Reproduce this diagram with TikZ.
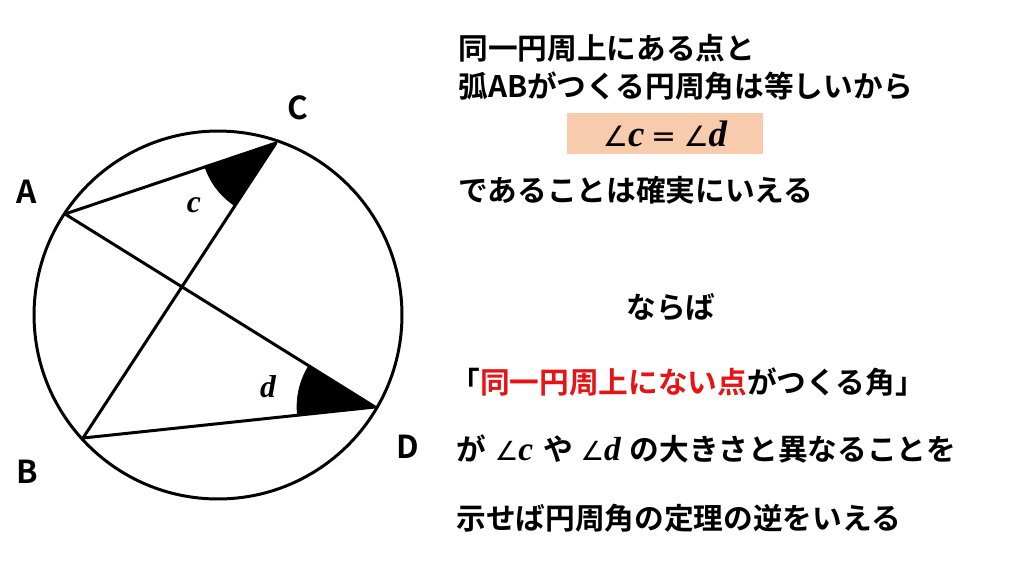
\documentclass[tikz,border=0pt]{standalone}
\usepackage{fontspec}
\usetikzlibrary{angles,calc}
\newfontfamily\jp{Noto Sans CJK JP}[BoldFont={Noto Sans CJK JP Bold}]
\newfontfamily\lsf{Liberation Serif}
\newfontfamily\djv{DejaVu Sans}
\definecolor{peach}{HTML}{F8CBAD}
\definecolor{jred}{RGB}{230,20,20}
\newcommand{\vv}[2][19]{{\lsf\bfseries\itshape\fontsize{#1}{#1}\selectfont #2}}
\newcommand{\ang}[1][15]{{\djv\mdseries\fontsize{#1}{#1}\selectfont ∠}}
\begin{document}
\begin{tikzpicture}[x=0.02cm,y=-0.02cm,
 line/.style={line width=1.7pt, line join=round},
 ptlabel/.style={font=\jp\bfseries\fontsize{18}{20}\selectfont},
 jtext/.style={font=\jp\bfseries\fontsize{16.9}{18}\selectfont, anchor=west, inner sep=0pt},
 wedge/.style={fill=black, draw=black}
]
\useasboundingbox (0,0) rectangle (1024,576);
\coordinate (O) at (218,315);
\coordinate (A) at (65,214);
\coordinate (C) at (276,143);
\coordinate (D) at (375,407);
\coordinate (B) at (83,438);
\pic[wedge, angle radius=1.5cm] {angle=A--C--B};
\pic[wedge, angle radius=1.56cm] {angle=A--D--B};
\draw[line] (O) circle [radius=3.68cm];
\draw[line] (A) -- (C) -- (B) -- (D) -- cycle;
\node[ptlabel] (lA) at (27,192) {A};
\node[ptlabel] (lC) at (298,108) {C};
\node[ptlabel] (lD) at (408,447) {D};
\node[ptlabel] (lB) at (27,472) {B};
\node (lc) at (194,205) {\vv[18]{c}};
\node (ld) at (268,387) {\vv[18]{d}};
\node[jtext] (t1) at (458,48) {同一円周上にある点と};
\node[jtext] (t2) at (458,86) {弧ABがつくる円周角は等しいから};
\node[fill=peach, minimum width=3.92cm, minimum height=0.82cm] (box) at (665,133.5) {\ang[16]\vv[21]{c}\hspace{4pt}{\djv\fontsize{17}{17}\selectfont =}\hspace{4pt}\ang[16]\vv[21]{d}};
\node[jtext] (t3) at (458,190) {であることは確実にいえる};
\node[jtext, anchor=center] (t4) at (671,307) {ならば};
\node[jtext] (t5) at (450,382) {「\textcolor{jred}{同一円周上にない点}がつくる角」};
\node[jtext] (t6) at (456,449) {が\hspace{5pt}\ang\vv{c}\hspace{6pt}や\hspace{4pt}\ang\vv{d}\hspace{5pt}の大きさと異なることを};
\node[jtext] (t7) at (456,518) {示せば円周角の定理の逆をいえる};
\end{tikzpicture}
\end{document}
